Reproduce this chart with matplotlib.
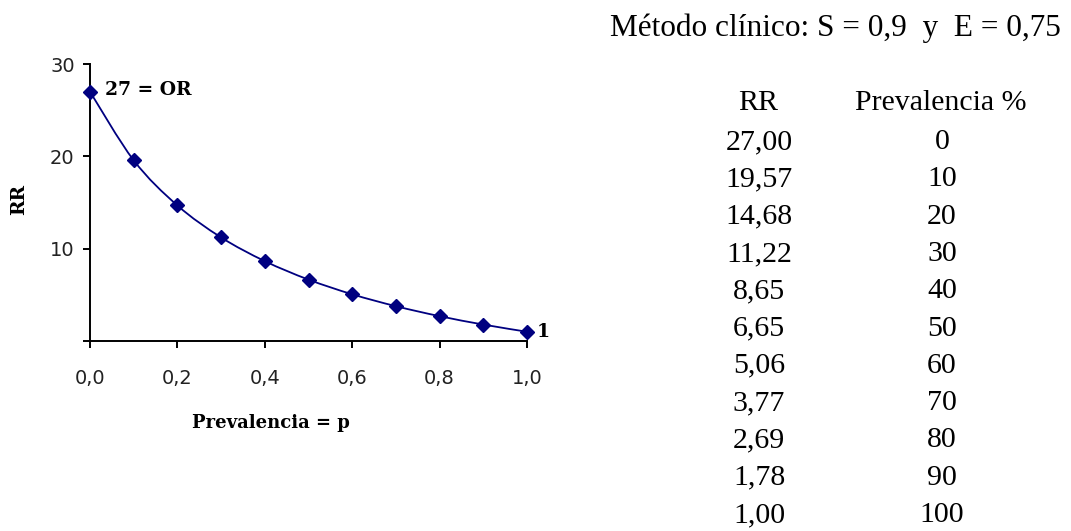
import matplotlib.pyplot as plt
from matplotlib.path import Path
from matplotlib.patches import PathPatch

# RR frente a prevalencia (S = 0,9 ; E = 0,75)
prevalencia_pct = [0, 10, 20, 30, 40, 50, 60, 70, 80, 90, 100]
rr = [27.00, 19.57, 14.68, 11.22, 8.65, 6.65, 5.06, 3.77, 2.69, 1.78, 1.00]
rr_txt = ["27,00", "19,57", "14,68", "11,22", "8,65", "6,65",
          "5,06", "3,77", "2,69", "1,78", "1,00"]
xticks = [0.0, 0.2, 0.4, 0.6, 0.8, 1.0]
yticks = [0, 10, 20, 30]

serif = ["Liberation Serif", "DejaVu Serif"]
serif_b = ["DejaVu Serif"]
sans = ["DejaVu Sans"]
navy = "#000080"

fig = plt.figure(figsize=(10.71, 5.31), dpi=100)
W, H = 1071, 531
ax = fig.add_axes([90 / W, (H - 341) / H, (527 - 90) / W, (341 - 64) / H])

p = [v / 100 for v in prevalencia_pct]

# linea suavizada (bezier tipo Catmull-Rom entre los puntos)
verts = [(p[0], rr[0])]
codes = [Path.MOVETO]
n = len(p)
for i in range(n - 1):
    i0, i3 = max(i - 1, 0), min(i + 2, n - 1)
    c1 = (p[i] + (p[i + 1] - p[i0]) / 6, rr[i] + (rr[i + 1] - rr[i0]) / 6)
    c2 = (p[i + 1] - (p[i3] - p[i]) / 6, rr[i + 1] - (rr[i3] - rr[i]) / 6)
    verts += [c1, c2, (p[i + 1], rr[i + 1])]
    codes += [Path.CURVE4] * 3
ax.add_patch(PathPatch(Path(verts, codes), fc="none", ec=navy, lw=1.3,
                       clip_on=False, zorder=2))
ax.plot(p, rr, ls="none", marker="D", ms=7.2, mec=navy, mfc=navy,
        clip_on=False, zorder=3)

ax.set_xlim(0, 1.0)
ax.set_ylim(0, 30)
ax.set_xticks(xticks)
ax.set_xticklabels([f"{t:.1f}".replace(".", ",") for t in xticks],
                   family=sans, fontsize=14, color="#222222")
ax.set_yticks(yticks)
ax.set_yticklabels(["" if t == 0 else str(t) for t in yticks],
                   family=sans, fontsize=14, color="#222222")
ax.tick_params(axis="both", direction="out", length=5, width=1.4, color="black")
ax.tick_params(axis="x", pad=15)
ax.tick_params(axis="y", pad=6)
for s in ("top", "right"):
    ax.spines[s].set_visible(False)
for s in ("left", "bottom"):
    ax.spines[s].set_linewidth(1.4)

fig.text(19 / W, 1 - 200 / H, "RR", rotation=90, ha="center", va="center",
         family=serif_b, fontweight="bold", fontsize=13.5)
fig.text(271 / W, 1 - 423 / H, "Prevalencia = p", ha="center", va="center",
         family=serif_b, fontweight="bold", fontsize=13)

ax.annotate("27 = OR", xy=(p[0], rr[0]), xytext=(11, 1), textcoords="offset points",
            ha="left", va="center", family=serif_b, fontweight="bold", fontsize=13.5)
ax.annotate("1", xy=(p[-1], rr[-1]), xytext=(7, 0), textcoords="offset points",
            ha="left", va="center", family=serif_b, fontweight="bold", fontsize=13.5)

# tabla a la derecha
fs = 21.5
fig.text(610 / W, 1 - 28 / H, "Método clínico: S = 0,9  y  E = 0,75",
         ha="left", va="center", family=serif, fontsize=22.5)
fig.text(758 / W, 1 - 103 / H, "RR", ha="center", va="center",
         family=serif, fontsize=fs)
fig.text(941 / W, 1 - 103 / H, "Prevalencia %", ha="center", va="center",
         family=serif, fontsize=fs)
y0, dy = 142, 37.3
for i, (r, pv) in enumerate(zip(rr_txt, prevalencia_pct)):
    yy = 1 - (y0 + i * dy) / H
    fig.text(759 / W, yy, r, ha="center", va="center", family=serif, fontsize=fs)
    fig.text(942 / W, yy, str(pv), ha="center", va="center", family=serif, fontsize=fs)

fig.savefig("out.png", dpi=100, facecolor="white")
